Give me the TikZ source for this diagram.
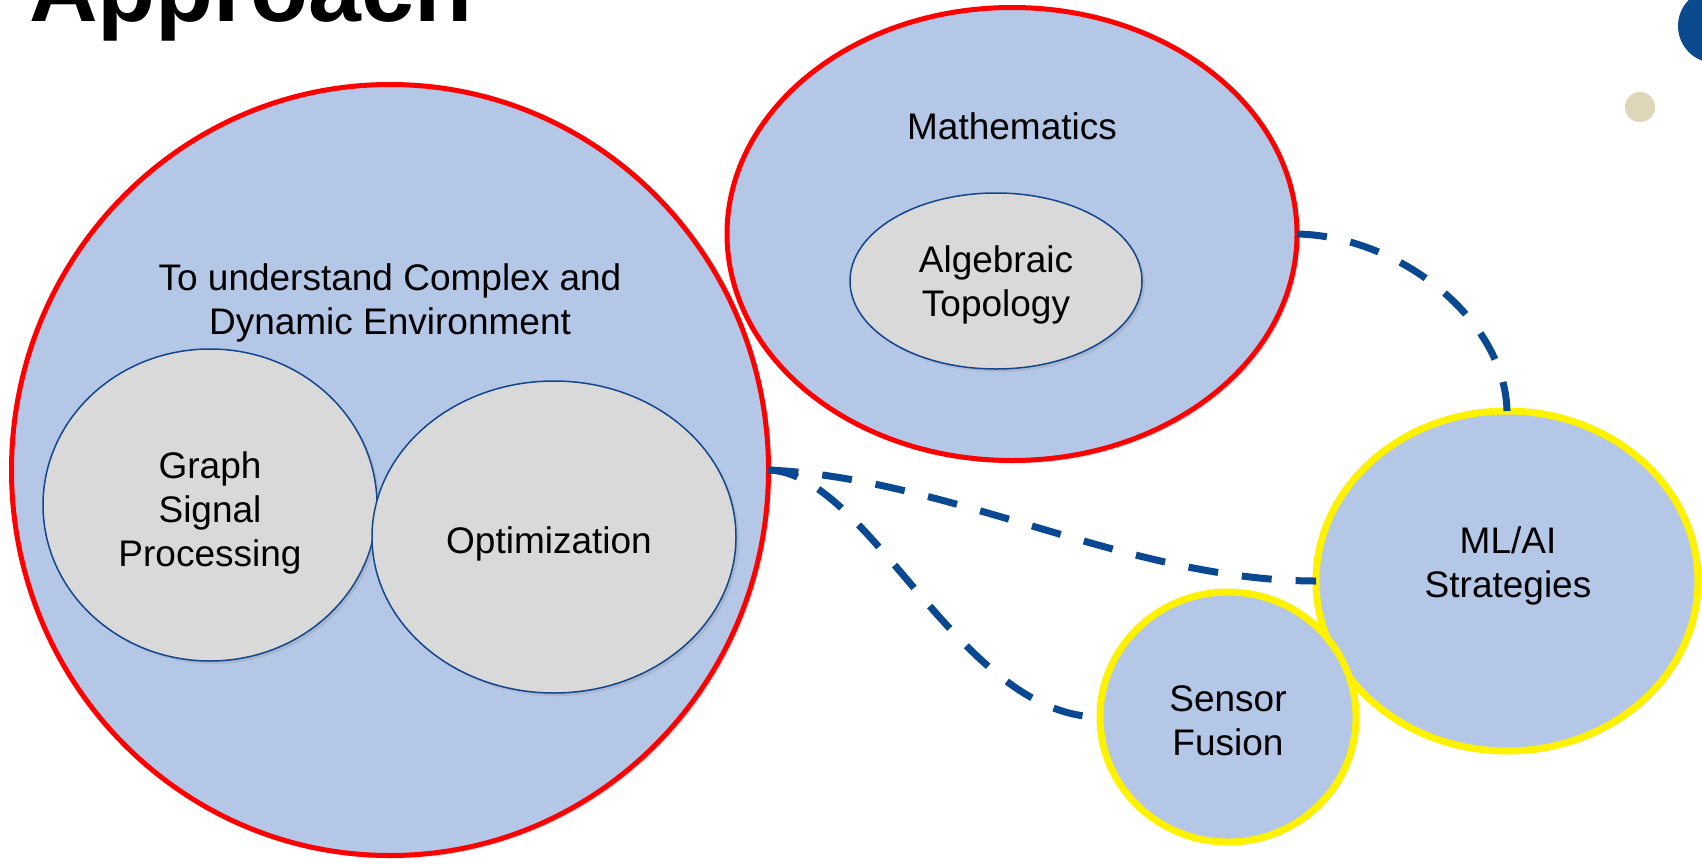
\documentclass[tikz,border=0pt]{standalone}
\usepackage{fontspec}
\setmainfont{Liberation Sans}
\usetikzlibrary{shapes.geometric,shadows}
\definecolor{lblue}{RGB}{180,199,231}
\definecolor{lgray}{RGB}{217,217,217}
\definecolor{edgeblue}{RGB}{20,70,140}
\definecolor{dashblue}{RGB}{10,72,145}
\definecolor{darkdot}{RGB}{11,74,140}
\definecolor{beige}{RGB}{221,214,184}
\begin{document}
\begin{tikzpicture}[x=1pt,y=-1pt,
  txt/.style={font=\fontsize{37}{44}\selectfont, align=center, inner sep=0},
  shade/.style={drop shadow={opacity=0.22, shadow xshift=3pt, shadow yshift=-3pt}},
  redell/.style={ellipse, draw=red, line width=5pt, fill=lblue, inner sep=0, outer sep=0, shade},
  yelell/.style={ellipse, draw=yellow, line width=7pt, fill=lblue, inner sep=0, outer sep=0, shade},
  grayell/.style={ellipse, draw=edgeblue, line width=1.5pt, fill=lgray, inner sep=0, outer sep=0, shade},
  conn/.style={draw=dashblue, line width=7pt, dash pattern=on 30pt off 24pt}
]
\useasboundingbox (0,0) rectangle (1702,865);

% title (cut off at top)
\node[anchor=base west, inner sep=0, font=\fontsize{95}{100}\selectfont\bfseries] (title) at (29,21) {Approach};

% decorations top right
\fill[darkdot] (1715,26) circle (37);
\fill[beige] (1640,107) circle (15);

% big environment circle
\node[redell, minimum width=757pt, minimum height=771pt] (env) at (390,470) {};
\node[txt] (envtxt) at (390,302.5) {To understand Complex and\\Dynamic Environment};
\node[grayell, minimum width=334pt, minimum height=312pt] (gsp) at (210,505) {};
\node[txt] (gsptxt) at (210,512.5) {Graph\\Signal\\Processing};
\node[grayell, minimum width=364pt, minimum height=312pt] (opt) at (554,537) {};
\node[txt] (opttxt) at (549,544) {Optimization};

% mathematics
\node[redell, minimum width=570pt, minimum height=453pt] (math) at (1012,234) {};
\node[txt] (mathtxt) at (1012,126) {Mathematics};
\node[grayell, minimum width=292pt, minimum height=176pt] (alg) at (996,281) {};
\node[txt] (algtxt) at (996,285) {Algebraic\\Topology};

% ML/AI and sensor fusion
\node[yelell, minimum width=382pt, minimum height=340pt] (ml) at (1507,581) {};
\node[txt] (mltxt) at (1508,565.5) {ML/AI\\Strategies};
\node[yelell, minimum width=256pt, minimum height=250pt] (sf) at (1228,717) {};
\node[txt] (sftxt) at (1228,720.5) {Sensor\\Fusion};

% connectors
\path[conn] (env.east) .. controls (950,478) and (1130,581) .. (ml.west);
\path[conn] (env.east) .. controls (870,473) and (960,717) .. (sf.west);
\path[conn] (math.east) .. controls (1400,236) and (1505,320) .. (ml.north);
\end{tikzpicture}
\end{document}
